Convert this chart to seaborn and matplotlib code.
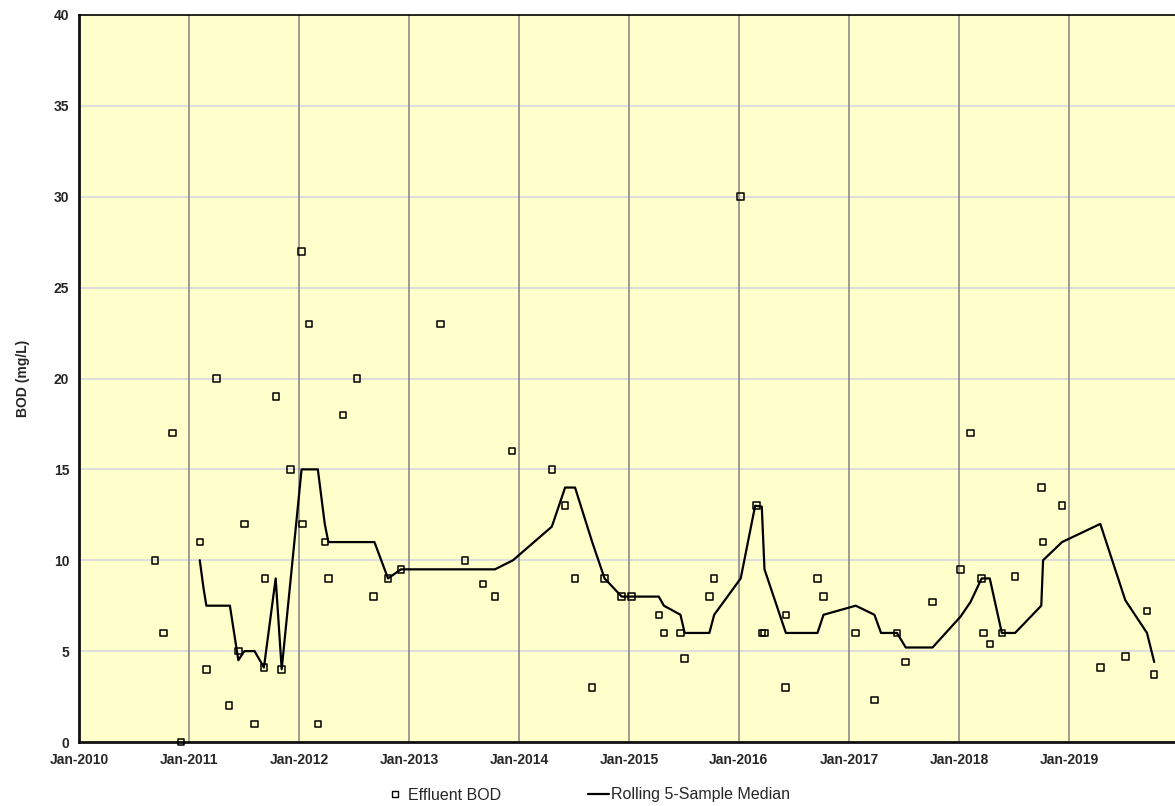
#!/usr/bin/env python3
"""Effluent BOD with rolling 5-sample median."""
import pandas as pd
import numpy as np
import matplotlib
matplotlib.use('Agg')
import matplotlib.pyplot as plt
import matplotlib.dates as mdates
from matplotlib.lines import Line2D
import seaborn as sns

# Effluent BOD samples
sample_dates = [
    '2010-09-10', '2010-10-08', '2010-11-07', '2010-12-05', '2011-02-06',
    '2011-02-28', '2011-04-03', '2011-05-14', '2011-06-14', '2011-07-04',
    '2011-08-07', '2011-09-07', '2011-09-11', '2011-10-17', '2011-11-05',
    '2011-12-05', '2012-01-10', '2012-01-13', '2012-02-04', '2012-03-04',
    '2012-03-27', '2012-04-08', '2012-05-27', '2012-07-12', '2012-09-05',
    '2012-10-23', '2012-12-05', '2013-04-16', '2013-07-05', '2013-09-03',
    '2013-10-13', '2013-12-09', '2014-04-20', '2014-06-03', '2014-07-06',
    '2014-09-01', '2014-10-12', '2014-12-08', '2015-01-09', '2015-04-10',
    '2015-04-27', '2015-06-21', '2015-07-05', '2015-09-25', '2015-10-11',
    '2016-01-07', '2016-02-28', '2016-03-17', '2016-03-26', '2016-06-05',
    '2016-06-04', '2016-09-18', '2016-10-08', '2017-01-23', '2017-03-26',
    '2017-06-09', '2017-07-08', '2017-10-05', '2018-01-06', '2018-02-08',
    '2018-03-17', '2018-03-23', '2018-04-13', '2018-05-23', '2018-07-06',
    '2018-10-01', '2018-10-07', '2018-12-09', '2019-04-15', '2019-07-07',
    '2019-09-17', '2019-10-11',
]
bod = [
    10, 6, 17, 0, 11,
    4, 20, 2, 5, 12,
    1, 4.1, 9, 19, 4,
    15, 27, 12, 23, 1,
    11, 9, 18, 20, 8,
    9, 9.5, 23, 10, 8.7,
    8, 16, 15, 13, 9,
    3, 9, 8, 8, 7,
    6, 6, 4.6, 8, 9,
    30, 13, 6, 6, 7,
    3, 9, 8, 6, 2.3,
    6, 4.4, 7.7, 9.5, 17,
    9, 6, 5.4, 6, 9.1,
    14, 11, 13, 4.1, 4.7,
    7.2, 3.7,
]

# Rolling 5-sample median (as drawn)
median_dates = [
    '2011-02-06', '2011-02-19', '2011-02-28', '2011-05-17', '2011-06-14',
    '2011-07-04', '2011-08-07', '2011-09-07', '2011-10-16', '2011-11-05',
    '2012-01-10', '2012-03-04', '2012-03-27', '2012-04-08', '2012-09-08',
    '2012-10-23', '2012-12-05', '2013-10-13', '2013-12-12', '2014-04-20',
    '2014-06-03', '2014-07-06', '2014-09-01', '2014-10-12', '2014-12-08',
    '2015-04-10', '2015-04-27', '2015-06-21', '2015-07-05', '2015-09-25',
    '2015-10-11', '2016-01-07', '2016-02-24', '2016-03-17', '2016-03-26',
    '2016-06-05', '2016-09-18', '2016-10-08', '2017-01-23', '2017-03-26',
    '2017-04-17', '2017-06-09', '2017-07-08', '2017-10-05', '2018-01-06',
    '2018-02-08', '2018-03-17', '2018-04-13', '2018-05-23', '2018-07-06',
    '2018-10-01', '2018-10-07', '2018-12-09', '2019-04-15', '2019-07-07',
    '2019-09-17', '2019-10-11',
]
median_vals = [
    10, 8.4, 7.5, 7.5, 4.5,
    5, 5, 4.1, 9, 4,
    15, 15, 12, 11, 11,
    9, 9.5, 9.5, 10, 11.85,
    14, 14, 11, 9, 8,
    8, 7.5, 7, 6, 6,
    7, 9, 13, 12.95, 9.5,
    6, 6, 7, 7.5, 7,
    6, 6, 5.2, 5.2, 6.9,
    7.7, 9, 9, 6, 6,
    7.5, 10, 11, 12, 7.8,
    6, 4.4,
]

year_ticks = [f'{y}-01-01' for y in range(2010, 2020)]


def main():
    samples = pd.DataFrame({'date': pd.to_datetime(sample_dates), 'bod': bod})
    median = pd.DataFrame({'date': pd.to_datetime(median_dates), 'bod': median_vals})

    sns.set_style('white')
    plt.rcParams['font.family'] = ['Liberation Sans', 'DejaVu Sans']

    fig = plt.figure(figsize=(11.75, 8.06), dpi=100)
    ax = fig.add_axes([79 / 1175, 1 - 742 / 806, 1 - 79 / 1175, (742 - 15) / 806])
    ax.set_facecolor('#FFFFCC')

    # grid
    for y in range(5, 40, 5):
        ax.axhline(y, color='#D8D8E0', lw=1.2, zorder=0)
    for d in year_ticks[1:]:
        ax.axvline(pd.Timestamp(d), color='#8C8C8C', lw=1.2, zorder=0)

    sns.lineplot(data=median, x='date', y='bod', ax=ax, color='black',
                 lw=1.6, zorder=3, legend=False)
    sns.scatterplot(data=samples, x='date', y='bod', ax=ax, marker='s', s=22,
                    facecolor='none', edgecolor='black', linewidth=1.1,
                    zorder=4, clip_on=False, legend=False)

    ax.set_ylim(0, 40)
    ax.set_yticks(range(0, 41, 5))
    ax.set_xlim(pd.Timestamp('2010-01-01'), pd.Timestamp('2019-12-19'))
    ax.set_xticks(pd.to_datetime(year_ticks))
    ax.xaxis.set_major_formatter(mdates.DateFormatter('%b-%Y'))
    ax.tick_params(length=0, labelsize=10)
    ax.tick_params(axis='x', pad=8)
    ax.tick_params(axis='y', pad=7)
    for lab in ax.get_xticklabels() + ax.get_yticklabels():
        lab.set_fontweight('bold')

    ax.set_xlabel('')
    ax.set_ylabel('BOD (mg/L)', fontsize=10, fontweight='bold', labelpad=17)

    for side in ['left', 'bottom']:
        ax.spines[side].set_linewidth(2)
        ax.spines[side].set_color('#111111')
    ax.spines['top'].set_linewidth(1.2)
    ax.spines['top'].set_color('black')
    ax.spines['right'].set_visible(False)

    handles = [
        Line2D([], [], marker='s', ls='none', markersize=4.5, mfc='none',
               mec='black', mew=1.0),
        Line2D([], [], color='black', lw=1.6),
    ]
    fig.legend(handles, ['Effluent BOD', 'Rolling 5-Sample Median'],
               loc='center', bbox_to_anchor=(587.5 / 1175, 1 - 795 / 806),
               ncol=2, frameon=False, fontsize=11.5, columnspacing=5.45,
               handlelength=1.3, handletextpad=0.15)

    fig.savefig('out.png', dpi=100)
    plt.close(fig)


if __name__ == '__main__':
    main()
